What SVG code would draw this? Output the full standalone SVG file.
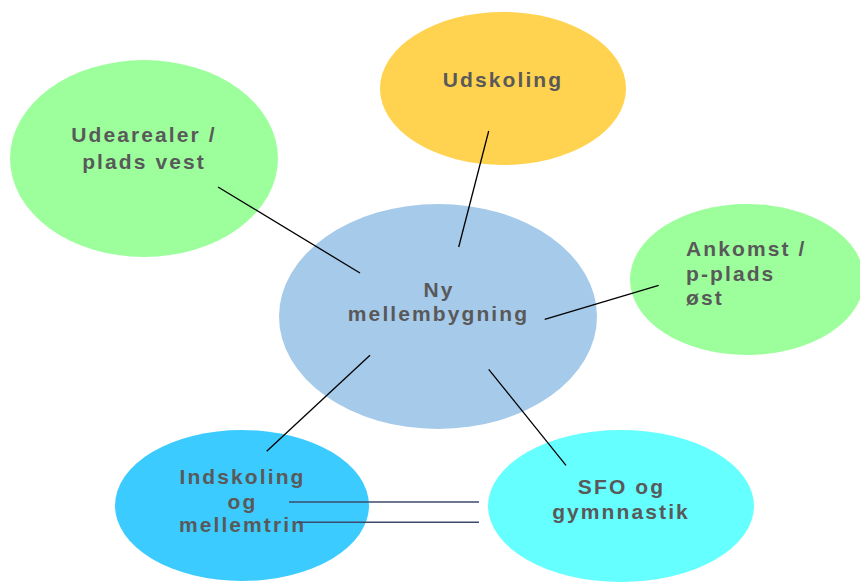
<svg xmlns="http://www.w3.org/2000/svg" width="860" height="582" viewBox="0 0 860 582">
<style>
.lbl{font-family:"Liberation Sans",Arial,sans-serif;font-weight:bold;font-size:21px;letter-spacing:2.1px;fill:#595959}
.c{text-anchor:middle}
.con{stroke:#000;stroke-width:1.3;fill:none}
.con2{stroke:#3c4a6b;stroke-width:1.4;fill:none}
</style>
<rect width="860" height="582" fill="#fff"/>
<g id="udearealer">
<ellipse cx="144" cy="158.5" rx="134" ry="98.5" fill="#9cff9c"/>
<text class="lbl c" x="144" y="142">Udearealer /</text>
<text class="lbl c" x="144" y="168.5">plads vest</text>
</g>
<g id="udskoling">
<ellipse cx="503" cy="88.5" rx="123" ry="76.5" fill="#ffd34f"/>
<text class="lbl c" x="503" y="87">Udskoling</text>
</g>
<g id="ny-mellembygning">
<ellipse cx="438" cy="316.5" rx="159" ry="112.5" fill="#a6caea"/>
<text class="lbl c" x="439" y="296.5">Ny</text>
<text class="lbl c" x="438.5" y="320.5">mellembygning</text>
</g>
<g id="ankomst">
<ellipse cx="747" cy="279.5" rx="117" ry="75.5" fill="#9cff9c"/>
<text class="lbl" x="686" y="256">Ankomst /</text>
<text class="lbl" x="686" y="281">p-plads</text>
<text class="lbl" x="686" y="305">øst</text>
</g>
<g id="indskoling">
<ellipse cx="242" cy="505.5" rx="127" ry="75.5" fill="#3ccbff"/>
<text class="lbl c" x="242.5" y="483.5">Indskoling</text>
<text class="lbl c" x="242.5" y="508.5">og</text>
<text class="lbl c" x="242.5" y="531.5">mellemtrin</text>
</g>
<g id="sfo">
<ellipse cx="621" cy="506" rx="133" ry="76" fill="#66ffff"/>
<text class="lbl c" x="621.5" y="493.5">SFO og</text>
<text class="lbl c" x="621" y="518.5">gymnnastik</text>
</g>
<g id="connectors">
<line class="con" x1="218" y1="187" x2="360" y2="273"/>
<line class="con" x1="488.7" y1="131" x2="458.7" y2="247"/>
<line class="con" x1="544.7" y1="319.3" x2="658.7" y2="285.3"/>
<line class="con" x1="370" y1="355.3" x2="266.7" y2="451.3"/>
<line class="con" x1="488.7" y1="369.3" x2="566" y2="465.3"/>
<line class="con2" x1="289" y1="502" x2="479" y2="502"/>
<line class="con2" x1="297" y1="522.3" x2="479" y2="522.3"/>
</g>
</svg>
